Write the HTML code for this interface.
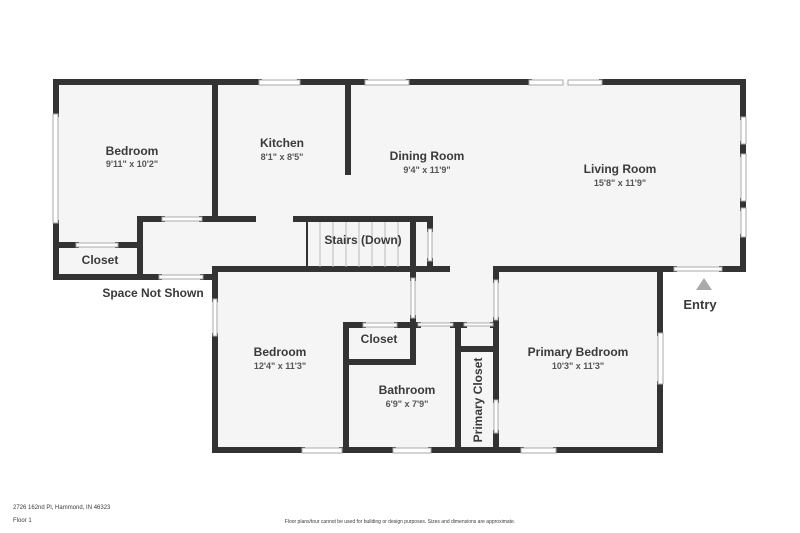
<!DOCTYPE html>
<html><head><meta charset="utf-8"><style>
html,body{margin:0;padding:0;background:#fff;width:800px;height:533px;overflow:hidden}
text{font-family:"Liberation Sans","DejaVu Sans",sans-serif;fill:#3a3a3a}
.r{font-size:12px;font-weight:bold}
.d{font-size:9px;font-weight:bold;fill:#555}
</style></head><body>
<svg width="800" height="533" viewBox="0 0 800 533" xmlns="http://www.w3.org/2000/svg">
<polygon points="56,82 743,82 743,269 660,269 660,450 215,450 215,277 56,277" fill="#f5f5f5"/>
<g stroke="#333" stroke-width="6" fill="none" stroke-linecap="square">
<!-- outer top -->
<line x1="56" y1="82" x2="259" y2="82"/><line x1="300" y1="82" x2="365" y2="82"/>
<line x1="409" y1="82" x2="529" y2="82"/><line x1="602" y1="82" x2="743" y2="82"/>
<!-- right -->
<line x1="743" y1="82" x2="743" y2="117"/><line x1="743" y1="144" x2="743" y2="154"/>
<line x1="743" y1="201" x2="743" y2="208"/><line x1="743" y1="237" x2="743" y2="269"/>
<line x1="722" y1="269" x2="743" y2="269"/><line x1="498" y1="269" x2="674" y2="269"/>
<!-- left -->
<line x1="56" y1="82" x2="56" y2="114"/><line x1="56" y1="223" x2="56" y2="277"/>
<line x1="56" y1="277" x2="159" y2="277"/><line x1="203" y1="277" x2="215" y2="277"/>
<!-- closet -->
<line x1="56" y1="245" x2="76" y2="245"/><line x1="118" y1="245" x2="140" y2="245"/>
<line x1="140" y1="219" x2="140" y2="277"/>
<line x1="140" y1="219" x2="162" y2="219"/><line x1="202" y1="219" x2="253" y2="219"/>
<line x1="215" y1="82" x2="215" y2="219"/>
<line x1="348" y1="82" x2="348" y2="172"/>
<!-- stairs -->
<line x1="296" y1="219" x2="430" y2="219"/>
<line x1="430" y1="219" x2="430" y2="229"/><line x1="430" y1="261" x2="430" y2="269"/>
<line x1="413" y1="219" x2="413" y2="278"/>
<line x1="215" y1="269" x2="447" y2="269"/>
<!-- bedroom2 -->
<line x1="215" y1="269" x2="215" y2="299"/><line x1="215" y1="336" x2="215" y2="450"/>
<line x1="215" y1="450" x2="302" y2="450"/><line x1="342" y1="450" x2="393" y2="450"/>
<line x1="431" y1="450" x2="521" y2="450"/><line x1="556" y1="450" x2="660" y2="450"/>
<line x1="660" y1="269" x2="660" y2="333"/><line x1="660" y1="384" x2="660" y2="450"/>
<!-- closet/bath -->
<line x1="346" y1="325" x2="346" y2="450"/>
<line x1="346" y1="325" x2="363" y2="325"/><line x1="397" y1="325" x2="418" y2="325"/>
<line x1="413" y1="318" x2="413" y2="362"/><line x1="346" y1="362" x2="413" y2="362"/>
<line x1="453" y1="325" x2="464" y2="325"/>
<line x1="458" y1="325" x2="458" y2="450"/>
<line x1="458" y1="349" x2="495" y2="349"/>
<line x1="493" y1="325" x2="496" y2="325"/>
<line x1="496" y1="320" x2="496" y2="400"/><line x1="496" y1="433" x2="496" y2="450"/>
<line x1="496" y1="269" x2="496" y2="280"/>
</g>
<!-- glass/windows -->
<g stroke="#aaa" stroke-width="1" fill="#fff">
<rect x="259" y="80" width="41" height="5"/><rect x="365" y="80" width="44" height="5"/>
<rect x="529" y="80" width="34" height="5"/><rect x="568" y="80" width="34" height="5"/>
<rect x="741" y="117" width="5" height="27"/><rect x="741" y="154" width="5" height="47"/><rect x="741" y="208" width="5" height="29"/>
<rect x="53" y="114" width="5" height="109"/>
<rect x="76" y="243" width="42" height="4"/><rect x="162" y="217" width="40" height="4"/>
<rect x="159" y="275" width="44" height="4"/>
<rect x="428" y="229" width="4" height="32"/>
<rect x="213" y="299" width="4" height="37"/>
<rect x="302" y="448" width="40" height="5"/><rect x="393" y="448" width="38" height="5"/><rect x="521" y="448" width="35" height="5"/>
<rect x="658" y="333" width="5" height="51"/>
<rect x="494" y="400" width="4" height="33"/>
<rect x="674" y="267" width="48" height="4"/>
<rect x="363" y="323" width="34" height="4"/>
<rect x="418" y="323" width="35" height="3"/><rect x="464" y="323" width="29" height="3"/>
<rect x="411" y="278" width="4" height="40"/><rect x="494" y="280" width="4" height="40"/>
</g>
<!-- stair treads -->
<g stroke="#bbb" stroke-width="1">
<line x1="307" y1="222" x2="307" y2="267" stroke="#333" stroke-width="2"/>
<line x1="320" y1="222" x2="320" y2="267"/><line x1="333" y1="222" x2="333" y2="267"/>
<line x1="346" y1="222" x2="346" y2="267"/><line x1="359" y1="222" x2="359" y2="267"/>
<line x1="372" y1="222" x2="372" y2="267"/><line x1="385" y1="222" x2="385" y2="267"/>
<line x1="398" y1="222" x2="398" y2="267"/>
</g>
<polygon points="704,278 696,290 712,290" fill="#aaa"/>
<text class="r" x="132" y="155" text-anchor="middle">Bedroom</text>
<text class="d" x="132" y="167" text-anchor="middle">9'11" x 10'2"</text>
<text class="r" x="282" y="147" text-anchor="middle">Kitchen</text>
<text class="d" x="282" y="160" text-anchor="middle">8'1" x 8'5"</text>
<text class="r" x="427" y="160" text-anchor="middle">Dining Room</text>
<text class="d" x="427" y="173" text-anchor="middle">9'4" x 11'9"</text>
<text class="r" x="620" y="173" text-anchor="middle">Living Room</text>
<text class="d" x="620" y="186" text-anchor="middle">15'8" x 11'9"</text>
<text class="r" x="363" y="244" text-anchor="middle">Stairs (Down)</text>
<text class="r" x="100" y="264" text-anchor="middle">Closet</text>
<text class="r" x="153" y="297" text-anchor="middle">Space Not Shown</text>
<text class="r" x="700" y="309" text-anchor="middle" style="font-size:13px">Entry</text>
<text class="r" x="280" y="356" text-anchor="middle">Bedroom</text>
<text class="d" x="280" y="369" text-anchor="middle">12'4" x 11'3"</text>
<text class="r" x="379" y="343" text-anchor="middle">Closet</text>
<text class="r" x="407" y="394" text-anchor="middle">Bathroom</text>
<text class="d" x="407" y="407" text-anchor="middle">6'9" x 7'9"</text>
<text class="r" x="578" y="356" text-anchor="middle">Primary Bedroom</text>
<text class="d" x="578" y="369" text-anchor="middle">10'3" x 11'3"</text>
<text class="r" transform="translate(482,400) rotate(-90)" text-anchor="middle">Primary Closet</text>
<text x="13" y="509" style="font-size:6px">2726 162nd Pl, Hammond, IN 46323</text>
<text x="13" y="522" style="font-size:6px">Floor 1</text>
<text x="400" y="523" text-anchor="middle" style="font-size:5px">Floor plans/tour cannot be used for building or design purposes. Sizes and dimensions are approximate.</text>
</svg>
</body></html>
